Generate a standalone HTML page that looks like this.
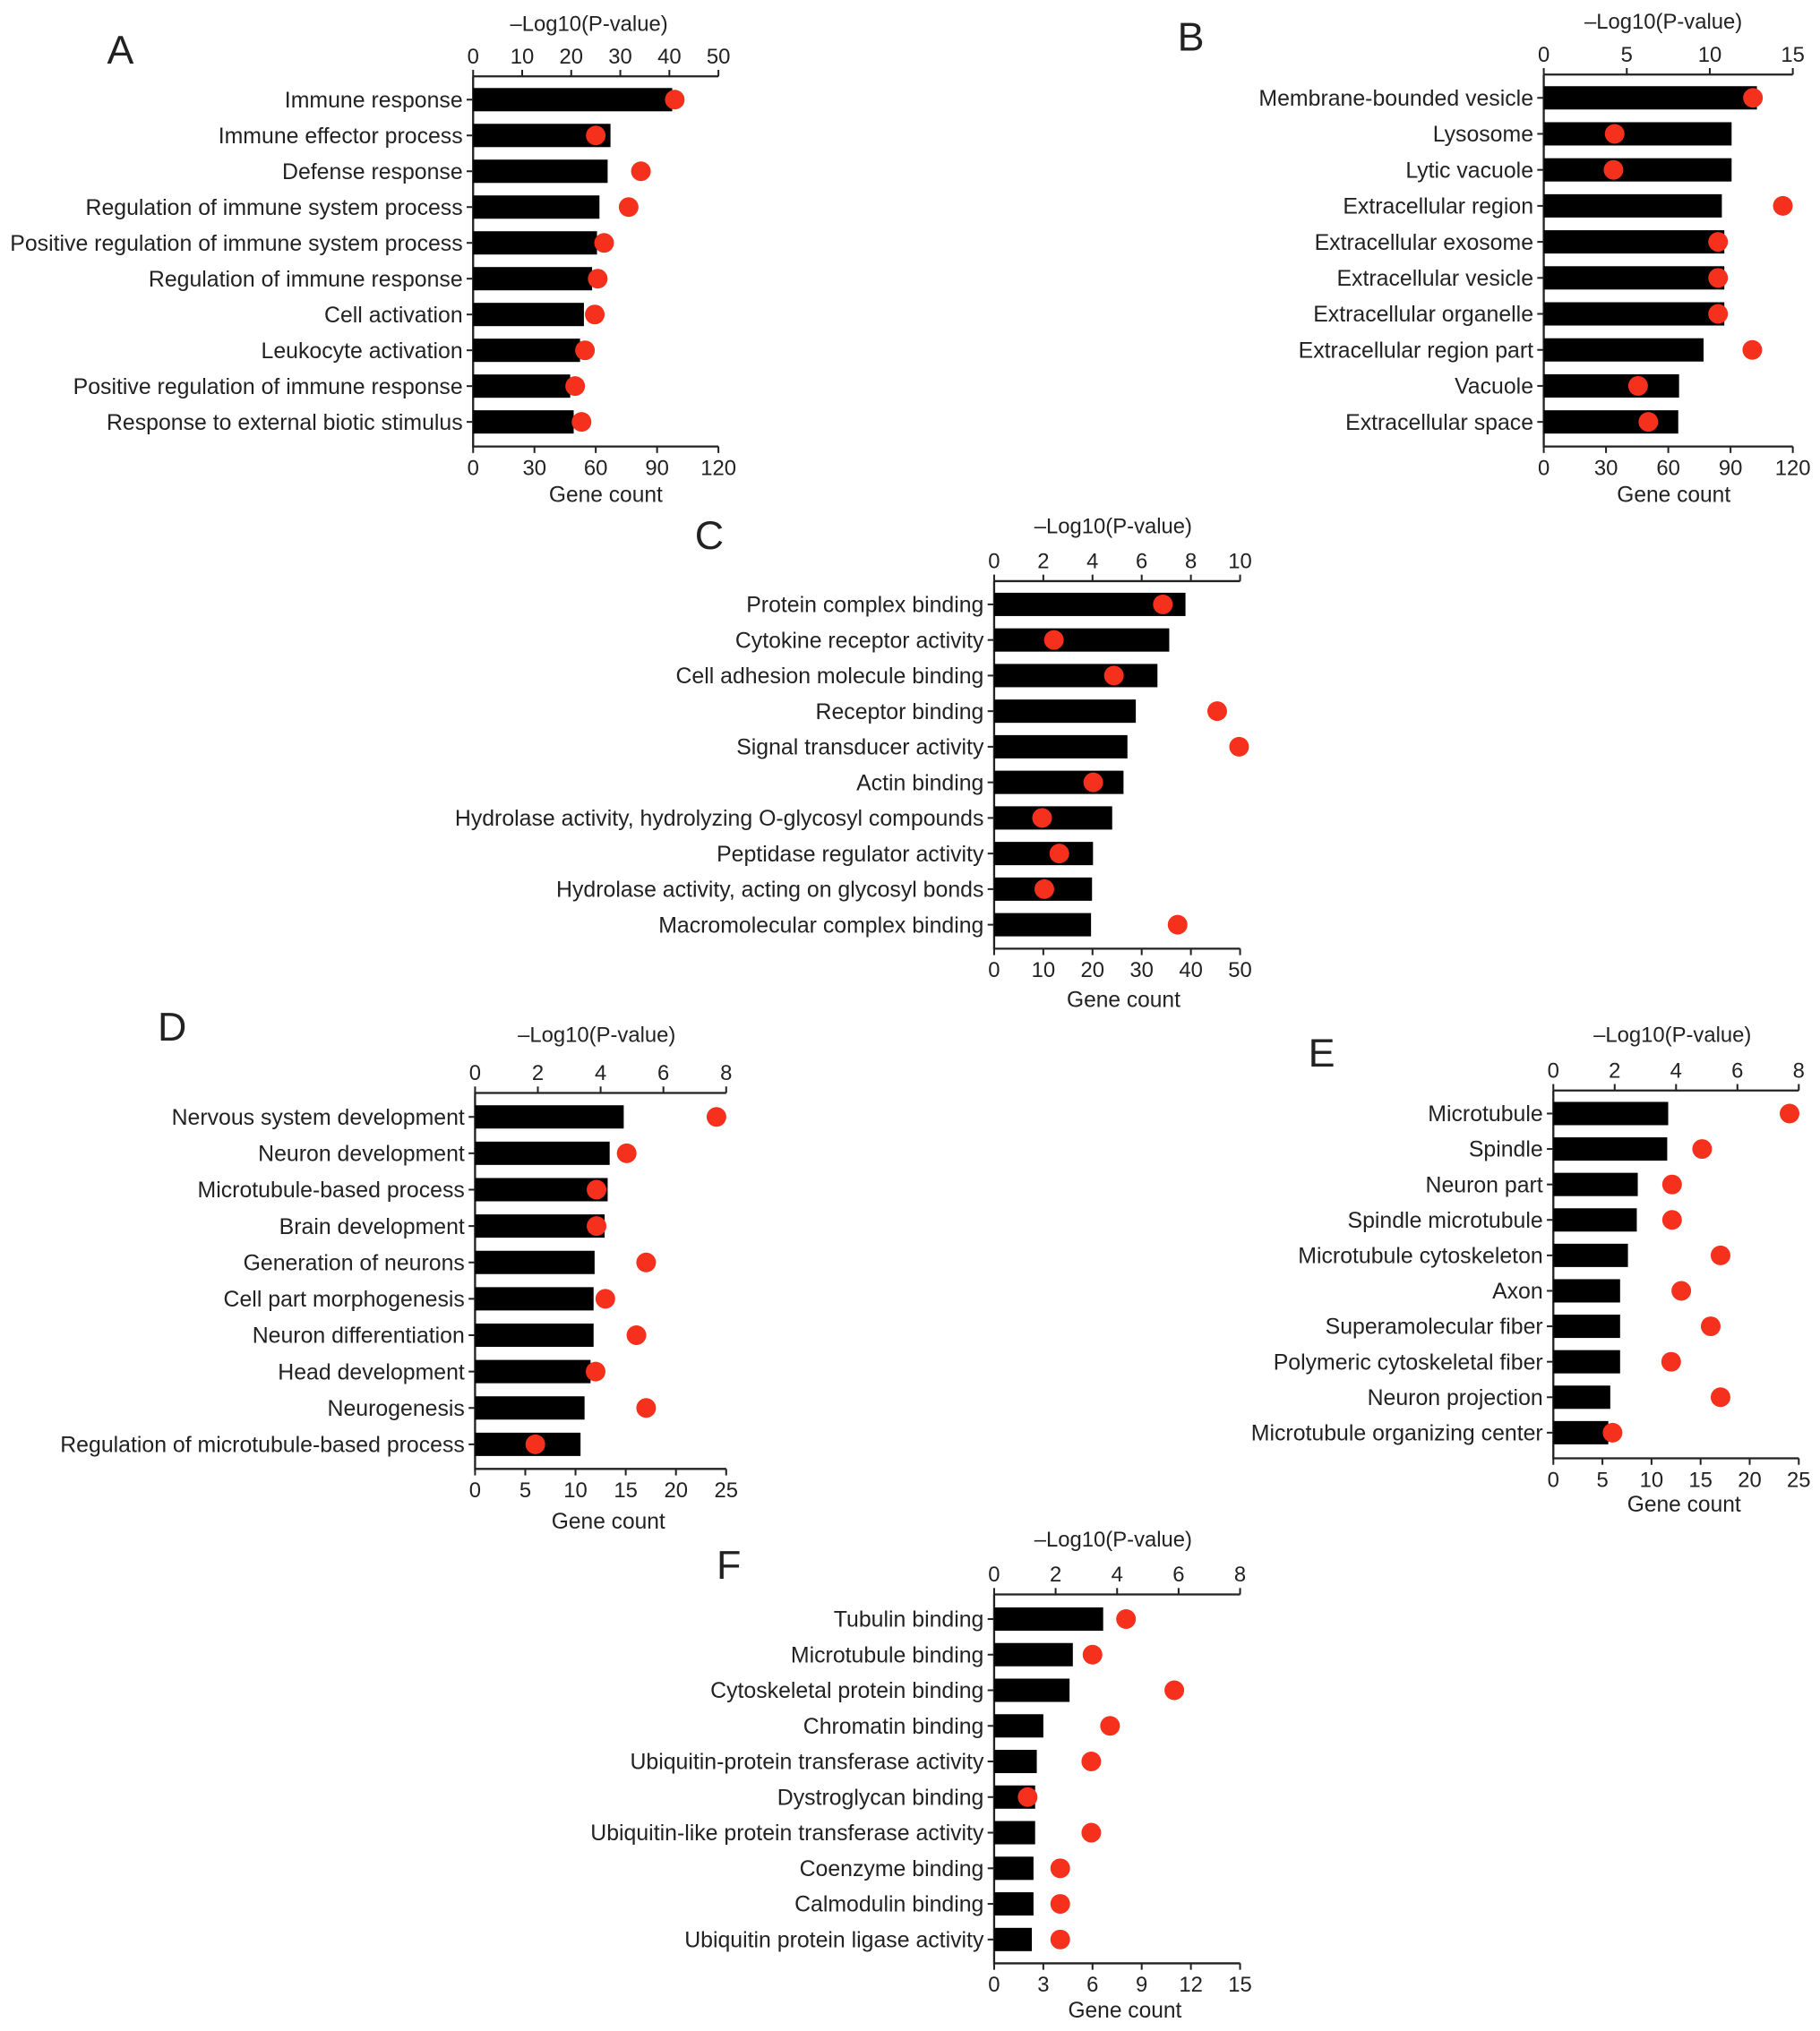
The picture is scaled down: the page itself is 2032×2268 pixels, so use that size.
<!DOCTYPE html>
<html><head><meta charset="utf-8"><style>
html,body{margin:0;padding:0;background:#fff}
svg{display:block}
text{font-family:"Liberation Sans",Arial,sans-serif;fill:#222}
</style></head><body>
<svg id="fig" width="2032" height="2268" viewBox="0 0 1406 1569.3" xmlns="http://www.w3.org/2000/svg"></svg>
<script>
// Panel A
const catsA=["Immune response","Immune effector process","Defense response","Regulation of immune system process","Positive regulation of immune system process","Regulation of immune response","Cell activation","Leukocyte activation","Positive regulation of immune response","Response to external biotic stimulus"];
const countA=[97.4,67.2,65.8,61.8,60.6,58.2,54.2,52.3,47.5,49.2];
const pvalA=[41.1,25.0,34.2,31.7,26.7,25.4,24.8,22.8,20.8,22.1];
const topTicksA=[0,10,20,30,40,50];
const botTicksA=[0,30,60,90,120];
// Panel B
const catsB=["Membrane-bounded vesicle","Lysosome","Lytic vacuole","Extracellular region","Extracellular exosome","Extracellular vesicle","Extracellular organelle","Extracellular region part","Vacuole","Extracellular space"];
const countB=[102.7,90.5,90.5,85.8,87,87,87,77,65.2,64.8];
const pvalB=[12.6,4.27,4.2,14.4,10.5,10.5,10.5,12.56,5.68,6.3];
const topTicksB=[0,5,10,15];
const botTicksB=[0,30,60,90,120];
// Panel C
const catsC=["Protein complex binding","Cytokine receptor activity","Cell adhesion molecule binding","Receptor binding","Signal transducer activity","Actin binding","Hydrolase activity, hydrolyzing O-glycosyl compounds","Peptidase regulator activity","Hydrolase activity, acting on glycosyl bonds","Macromolecular complex binding"];
const countC=[38.9,35.6,33.2,28.8,27.1,26.3,24.0,20.1,19.9,19.7];
const pvalC=[6.86,2.43,4.87,9.07,9.96,4.03,1.95,2.65,2.04,7.46];
const topTicksC=[0,2,4,6,8,10];
const botTicksC=[0,10,20,30,40,50];
// Panel D
const catsD=["Nervous system development","Neuron development","Microtubule-based process","Brain development","Generation of neurons","Cell part morphogenesis","Neuron differentiation","Head development","Neurogenesis","Regulation of microtubule-based process"];
const countD=[14.8,13.4,13.2,12.9,11.9,11.8,11.8,11.5,10.9,10.5];
const pvalD=[7.69,4.83,3.87,3.87,5.45,4.15,5.14,3.84,5.45,1.92];
const topTicksD=[0,2,4,6,8];
const botTicksD=[0,5,10,15,20,25];
// Panel E
const catsE=["Microtubule","Spindle","Neuron part","Spindle microtubule","Microtubule cytoskeleton","Axon","Superamolecular fiber","Polymeric cytoskeletal fiber","Neuron projection","Microtubule organizing center"];
const countE=[11.7,11.6,8.6,8.5,7.6,6.8,6.8,6.8,5.8,5.6];
const pvalE=[7.7,4.85,3.87,3.87,5.45,4.17,5.13,3.84,5.45,1.93];
const topTicksE=[0,2,4,6,8];
const botTicksE=[0,5,10,15,20,25];
// Panel F
const catsF=["Tubulin binding","Microtubule binding","Cytoskeletal protein binding","Chromatin binding","Ubiquitin-protein transferase activity","Dystroglycan binding","Ubiquitin-like protein transferase activity","Coenzyme binding","Calmodulin binding","Ubiquitin protein ligase activity"];
const countF=[6.65,4.8,4.6,3.0,2.6,2.5,2.5,2.4,2.4,2.3];
const pvalF=[4.29,3.2,5.86,3.77,3.16,1.09,3.16,2.15,2.15,2.15];
const topTicksF=[0,2,4,6,8];
const botTicksF=[0,3,6,9,12,15];

const NS="http://www.w3.org/2000/svg";
const svg=document.getElementById('fig');
function mk(tag,attrs,parent,txt){const e=document.createElementNS(NS,tag);for(const k in attrs)e.setAttribute(k,attrs[k]);if(txt!==undefined)e.textContent=txt;parent.appendChild(e);return e;}

const layouts=[
 {id:'a',letter:'A',lx:93,ly:38,x0:365.5,x1:555,yt:59,yb:345,r0:77,r1:326,tx:455,ty:18,gx:468,gy:382,cats:catsA,cnt:countA,pv:pvalA,tt:topTicksA,bt:botTicksA},
 {id:'b',letter:'B',lx:920,ly:28,x0:1192.6,x1:1385,yt:57.6,yb:345,r0:75.6,r1:326,tx:1285,ty:16,gx:1293,gy:382,cats:catsB,cnt:countB,pv:pvalB,tt:topTicksB,bt:botTicksB},
 {id:'c',letter:'C',lx:548,ly:413,x0:768,x1:958,yt:449,yb:733,r0:467,r1:714.5,tx:860,ty:406,gx:868,gy:772,cats:catsC,cnt:countC,pv:pvalC,tt:topTicksC,bt:botTicksC},
 {id:'d',letter:'D',lx:133,ly:793,x0:367,x1:561,yt:844.5,yb:1135,r0:863,r1:1116,tx:461,ty:799,gx:470,gy:1175,cats:catsD,cnt:countD,pv:pvalD,tt:topTicksD,bt:botTicksD},
 {id:'e',letter:'E',lx:1021,ly:813,x0:1200,x1:1389.6,yt:842.6,yb:1126.8,r0:860.4,r1:1107,tx:1292,ty:799,gx:1301,gy:1162,cats:catsE,cnt:countE,pv:pvalE,tt:topTicksE,bt:botTicksE},
 {id:'f',letter:'F',lx:563,ly:1209,x0:768,x1:958,yt:1232,yb:1517,r0:1251,r1:1498.6,tx:860,ty:1189,gx:869,gy:1553,cats:catsF,cnt:countF,pv:pvalF,tt:topTicksF,bt:botTicksF}
];

layouts.forEach(L=>{
  const g=mk('g',{},svg);
  
  
  const bMax=L.bt[L.bt.length-1], tMax=L.tt[L.tt.length-1];
  const xb=v=>L.x0+(L.x1-L.x0)*v/bMax;
  const xt=v=>L.x0+(L.x1-L.x0)*v/tMax;
  const n=L.cats.length;
  const yr=i=>L.r0+(L.r1-L.r0)*i/(n-1);
  const lt=mk('text',{x:L.lx,y:L.ly+11,'font-size':31,'text-anchor':'middle'},g,L.letter);
  
  
  const ax=mk('path',{d:`M${L.x0} ${L.yt}H${L.x1}M${L.x0} ${L.yt}V${L.yb}H${L.x1}`,stroke:'#222','stroke-width':1.6,fill:'none'},g);
  
  
  L.tt.forEach(v=>{
    const x=xt(v);
    mk('line',{x1:x,x2:x,y1:L.yt,y2:L.yt-5,stroke:'#222','stroke-width':1.4},g);
    const t=mk('text',{x:x,y:L.yt-10,'font-size':16.5,'text-anchor':'middle'},g,String(v));
    
    
  });
  L.bt.forEach(v=>{
    const x=xb(v);
    mk('line',{x1:x,x2:x,y1:L.yb,y2:L.yb+5,stroke:'#222','stroke-width':1.4},g);
    const t=mk('text',{x:x,y:L.yb+22,'font-size':16.5,'text-anchor':'middle'},g,String(v));
    
    
  });
  const tt=mk('text',{x:L.tx,y:L.ty+6,'font-size':16.5,'text-anchor':'middle'},g,'\u2013Log10(P-value)');
  
  
  const gt=mk('text',{x:L.gx,y:L.gy+6,'font-size':17,'text-anchor':'middle'},g,'Gene count');
  
  
  L.cats.forEach((c,i)=>{
    const y=yr(i);
    mk('line',{x1:L.x0-5,x2:L.x0,y1:y,y2:y,stroke:'#222','stroke-width':1.4},g);
    const lb=mk('text',{x:L.x0-8,y:y+6,'font-size':17.2,'text-anchor':'end'},g,c);
    
    
    const bar=mk('rect',{x:L.x0,y:y-9,width:xb(L.cnt[i])-L.x0,height:18,fill:'#000'},g);
    
    
    const dot=mk('circle',{cx:xt(L.pv[i]),cy:y,r:7.6,fill:'#f5301c'},g);
    
    
  });
});
</script>
</body></html>
